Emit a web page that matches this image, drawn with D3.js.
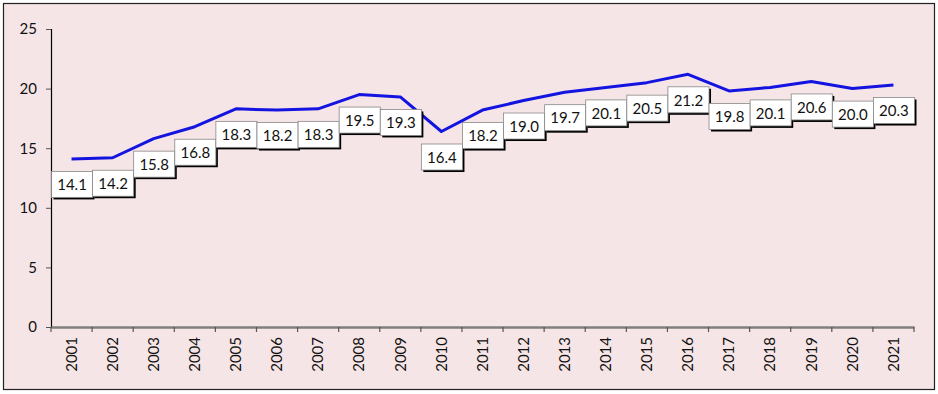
<!DOCTYPE html>
<html>
<head>
  <script src="https://d3js.org/d3.v7.js"></script>
  <style>
    html, body {
      margin: 0px;
      padding: 0px;
      background: #ffffff;
      font-family: Lato, "Open Sans", "Liberation Sans", Arial, sans-serif;
    }
    .axis text {
      font-family: Lato, "Open Sans", sans-serif;
      font-size: 15px;
      fill: #111;
    }
    .valueLabel {
      font-size: 15px;
      fill: #111;
    }
  </style>
</head>
<body>
  <div id="chart"></div>
  <script>
    const width = 938;
    const height = 394;
    const margin = {top: 29, left: 51, right: 24, bottom: 67};

    // data
    const years = ["2001","2002","2003","2004","2005","2006","2007","2008","2009","2010",
                   "2011","2012","2013","2014","2015","2016","2017","2018","2019","2020","2021"];
    const values = [14.1, 14.2, 15.8, 16.8, 18.3, 18.2, 18.3, 19.5, 19.3, 16.4,
                    18.2, 19.0, 19.7, 20.1, 20.5, 21.2, 19.8, 20.1, 20.6, 20.0, 20.3];
    const yTicks = [0, 5, 10, 15, 20, 25];

    const data = years.map((y, i) => ({year: y, value: values[i]}));

    const svg = d3.select("#chart")
      .append("svg")
      .attr("width", width)
      .attr("height", height);

    // background + frame
    svg.append("rect")
      .attr("x", 3.5).attr("y", 3.5)
      .attr("width", width - 7).attr("height", height - 8)
      .attr("fill", "#f6e5e6")
      .attr("stroke", "#222")
      .attr("stroke-width", 1.2);

    const xScale = d3.scaleBand()
      .domain(years)
      .range([margin.left, width - margin.right]);

    const yScale = d3.scaleLinear()
      .domain([0, 25])
      .range([height - margin.bottom, margin.top]);

    // y axis
    const yAxis = svg.append("g")
      .attr("class", "axis")
      .attr("transform", `translate(${margin.left},0)`)
      .call(d3.axisLeft(yScale).tickValues(yTicks).tickSize(5).tickPadding(9));
    yAxis.select(".domain").attr("stroke", "#000").attr("stroke-width", 1.2);
    yAxis.selectAll(".tick line").attr("stroke", "#555");

    // x axis
    const xAxis = svg.append("g")
      .attr("class", "axis")
      .attr("transform", `translate(0,${height - margin.bottom})`)
      .call(d3.axisBottom(xScale).tickSize(0).tickSizeOuter(0));
    xAxis.select(".domain").attr("stroke", "#7f7f7f").attr("stroke-width", 2.5);
    xAxis.selectAll(".tick text")
      .attr("transform", "rotate(-90)")
      .attr("text-anchor", "end")
      .attr("dy", "0.35em")
      .attr("dx", "0")
      .attr("x", -10)
      .attr("y", 0);

    // tick marks between categories
    const boundaries = years.map(y => xScale(y)).concat([xScale.range()[1]]);
    svg.append("g")
      .selectAll("line")
      .data(boundaries)
      .enter()
      .append("line")
        .attr("x1", d => d).attr("x2", d => d)
        .attr("y1", height - margin.bottom)
        .attr("y2", height - margin.bottom + 5)
        .attr("stroke", "#555")
        .attr("stroke-width", 1.2);

    // line
    const line = d3.line()
      .x(d => xScale(d.year) + xScale.bandwidth() / 2)
      .y(d => yScale(d.value));

    svg.append("path")
      .datum(data)
      .attr("fill", "none")
      .attr("stroke", "#1414e0")
      .attr("stroke-width", 3)
      .attr("stroke-linejoin", "round")
      .attr("d", line);

    // value labels (boxes under each point)
    const boxW = xScale.bandwidth();
    const boxH = 26;
    const labels = svg.append("g")
      .selectAll("g")
      .data(data)
      .enter()
      .append("g")
        .attr("transform", d => `translate(${xScale(d.year)},${yScale(d.value) + 12})`);

    labels.append("rect")
      .attr("x", 2.5).attr("y", 2.5)
      .attr("width", boxW).attr("height", boxH)
      .attr("fill", "#000");

    labels.append("rect")
      .attr("x", 0.5).attr("y", 0.5)
      .attr("width", boxW).attr("height", boxH)
      .attr("fill", "#fff")
      .attr("stroke", "#888")
      .attr("stroke-width", 0.8);

    labels.append("text")
      .attr("class", "valueLabel")
      .attr("x", boxW / 2 + 0.5)
      .attr("y", boxH / 2 + 1)
      .attr("dy", "0.35em")
      .attr("text-anchor", "middle")
      .text(d => d.value.toFixed(1));
  </script>
</body>
</html>
